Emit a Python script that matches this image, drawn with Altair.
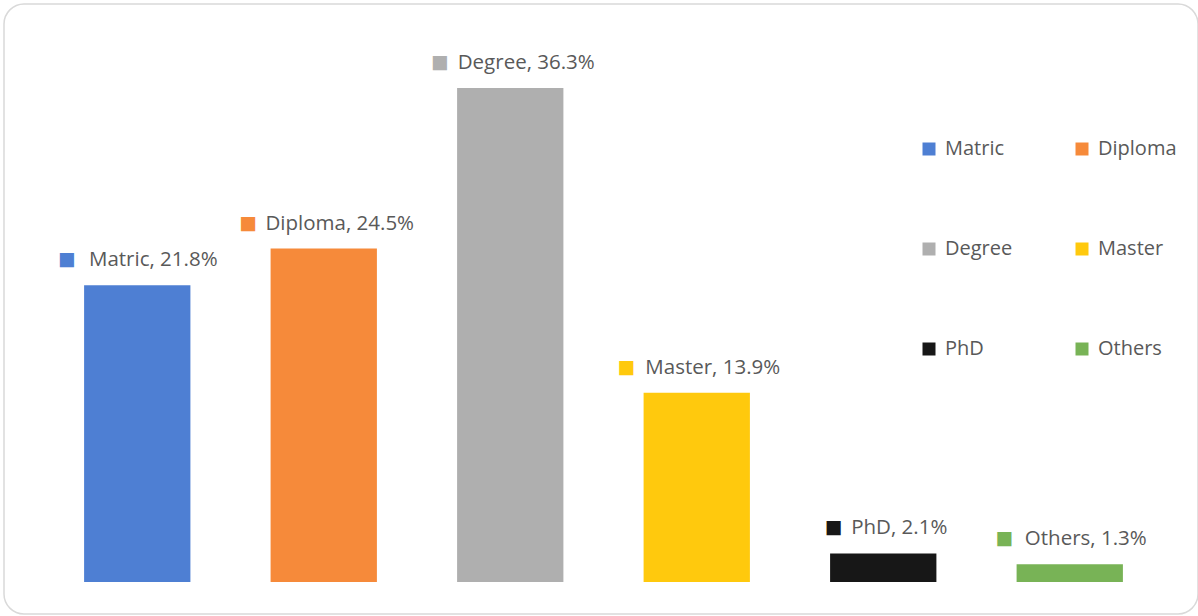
import altair as alt
import pandas as pd

categories = ["Matric", "Diploma", "Degree", "Master", "PhD", "Others"]
values = [21.8, 24.5, 36.3, 13.9, 2.1, 1.3]
colors = ["#4E7FD3", "#F68A3A", "#AFAFAF", "#FFC90D", "#171717", "#78B356"]

df = pd.DataFrame({"cat": categories, "val": values})
df["label"] = [f"{c}, {v}%" for c, v in zip(categories, values)]
df["sq"] = "■"

FONT = "Open Sans"
GREY = "#595959"

x = alt.X("cat:N", sort=categories, axis=None,
          scale=alt.Scale(range=[40, 1159], paddingInner=0.43, paddingOuter=0.215))
y = alt.Y("val:Q", axis=None,
          scale=alt.Scale(domain=[0, 36.3], range=[578, 84], nice=False, zero=True))
color = alt.Color("cat:N", sort=categories,
                  scale=alt.Scale(domain=categories, range=colors),
                  legend=alt.Legend(
                      title=None, orient="none", legendX=915, legendY=135,
                      columns=2, direction="horizontal",
                      symbolType="square", symbolSize=169,
                      symbolStrokeWidth=0, labelFontSize=20, labelFont=FONT,
                      labelColor=GREY, labelOffset=6, columnPadding=59,
                      rowPadding=80, symbolOffset=0, padding=0))

base = alt.Chart(df).encode(x=x, y=y)

bars = base.mark_bar().encode(color=color)

labels = base.mark_text(align="center", baseline="alphabetic", dx=16, dy=-19,
                        font=FONT, fontSize=20.5, color=GREY).encode(text="label:N")

squares = base.mark_text(align="center", baseline="alphabetic", dy=-20,
                         font="DejaVu Sans", fontSize=18.5,
                         dx=alt.ExprRef(expr="-3 - length(datum.label)*5.2")).encode(
    text="sq:N",
    color=alt.Color("cat:N", sort=categories,
                    scale=alt.Scale(domain=categories, range=colors), legend=None))

chart = alt.layer(bars, labels, squares).properties(
    width=1194, height=610,
    autosize=alt.AutoSizeParams(type="none"),
    padding={"left": 4, "top": 4, "right": 0, "bottom": 2},
    background="white",
).configure_view(stroke="#D9D9D9", strokeWidth=1.5, cornerRadius=20)

chart.save("out.html", embed_options={"renderer": "svg", "actions": False})
